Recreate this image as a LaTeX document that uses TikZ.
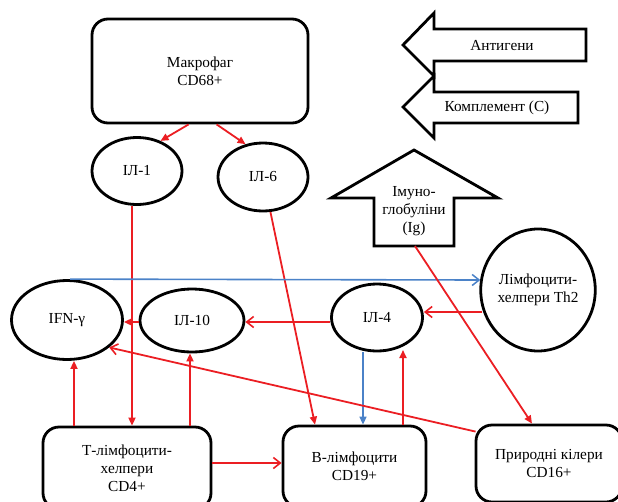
\documentclass[tikz,border=0pt]{standalone}
\usepackage{fontspec}
\setmainfont{Liberation Serif}
\usetikzlibrary{arrows.meta,shapes.geometric,calc}
\definecolor{lnred}{RGB}{235,30,35}
\definecolor{lnblue}{RGB}{75,130,200}
\begin{document}
\begin{tikzpicture}[x=1pt,y=-1pt,
  every node/.style={font=\fontsize{15.3}{18}\selectfont, align=center},
  box/.style={draw=black, line width=2.8pt, rounded corners=16pt, inner sep=0pt},
  oval/.style={draw=black, line width=2.8pt, ellipse, inner sep=0pt},
  bigarrow/.style={draw=black, line width=2.8pt, line join=miter, fill=white},
  rf/.style={draw=lnred, line width=1.8pt, -{Triangle[length=8pt,width=7pt]}},
  ro/.style={draw=lnred, line width=1.8pt, -{Straight Barb[length=7pt,width=11pt,line width=1.6pt]}},
  bf/.style={draw=lnblue, line width=1.6pt, -{Triangle[length=8pt,width=7pt]}},
  bo/.style={draw=lnblue, line width=1.6pt, -{Straight Barb[length=7pt,width=11pt,line width=1.5pt]}}]
\clip (0,0) rectangle (618,501);
\useasboundingbox (0,0) rectangle (618,501);

% boxes
\node[box, minimum width=216pt, minimum height=104pt] (mac) at (200,71) {Макрофаг\\CD68+};
\node[box, minimum width=168pt, minimum height=82pt] (tl) at (127,468) {Т-лімфоцити-\\хелпери\\CD4+};
\node[box, minimum width=143pt, minimum height=81pt] (bl) at (354.5,466.5) {В-лімфоцити\\CD19+};
\node[box, minimum width=146pt, minimum height=77pt] (nk) at (549,463.5) {Природні кілери\\CD16+};

% ellipses
\node[oval, minimum width=90pt, minimum height=67pt] (il1) at (137,171) {ІЛ-1};
\node[oval, minimum width=90pt, minimum height=68pt] (il6) at (263,177) {ІЛ-6};
\node[oval, minimum width=110pt, minimum height=122pt] (th2) at (538,290) {Лімфоцити-\\хелпери Th2};
\node[oval, minimum width=91pt, minimum height=67pt] (il4) at (377,317.5) {ІЛ-4};
\node[oval, minimum width=111pt, minimum height=79pt] (ifn) at (67,320) {IFN-γ};
\node[oval, minimum width=104pt, minimum height=63pt] (il10) at (192,320.5) {ІЛ-10};

% block arrows
\draw[bigarrow] (403,45) -- (434,13) -- (434,29) -- (586,29) -- (586,61) -- (434,61) -- (434,76) -- cycle;
\node (ant) at (502,46) {Антигени};
\draw[bigarrow] (403,107) -- (434,76) -- (434,92) -- (578,92) -- (578,123) -- (434,123) -- (434,138) -- cycle;
\node (comp) at (497,108) {Комплемент (С)};
\draw[bigarrow] (414,150) -- (498,198) -- (454,198) -- (454,246) -- (374,246) -- (374,198) -- (331,198) -- cycle;
\node (ig) at (414,211) {Імуно-\\глобуліни\\(Ig)};
\coordinate (igb) at (415,246);

% connectors
\draw[rf] ($(mac.south west)+(98,0)$) -- (il1.52);
\draw[rf] ($(mac.south west)+(126,0)$) -- (il6.118);
\draw[rf] (il1.south -| 132,0) -- (tl.north -| 132,0);
\draw[rf] (il6.-78) -- (bl.north -| 315,0);
\draw[bo] (ifn.north -| 70,0) -- ($(th2.west |- 0,280)+(1,0)$);
\draw[ro] ($(th2.west |- 0,312)+(3,0)$) -- (il4.east |- 0,312);
\draw[ro] (il4.west |- 0,322) -- (il10.east |- 0,322);
\draw[rf] (il10.west |- 0,322) -- (ifn.east |- 0,322);
\draw[rf] (tl.north -| 74,0) -- (ifn.south -| 74,0);
\draw[rf] (tl.north -| 190,0) -- (il10.south -| 190,0);
\draw[ro] (tl.east |- 0,463) -- (bl.west |- 0,463);
\draw[bf] (il4.south -| 363,0) -- (bl.north -| 363,0);
\draw[rf] (bl.north -| 403,0) -- (403,350);
\draw[ro] ($(nk.north west)+(1,8)$) -- (ifn.-33);
\draw[rf] (igb) -- (nk.north -| 532,0);
\end{tikzpicture}
\end{document}
